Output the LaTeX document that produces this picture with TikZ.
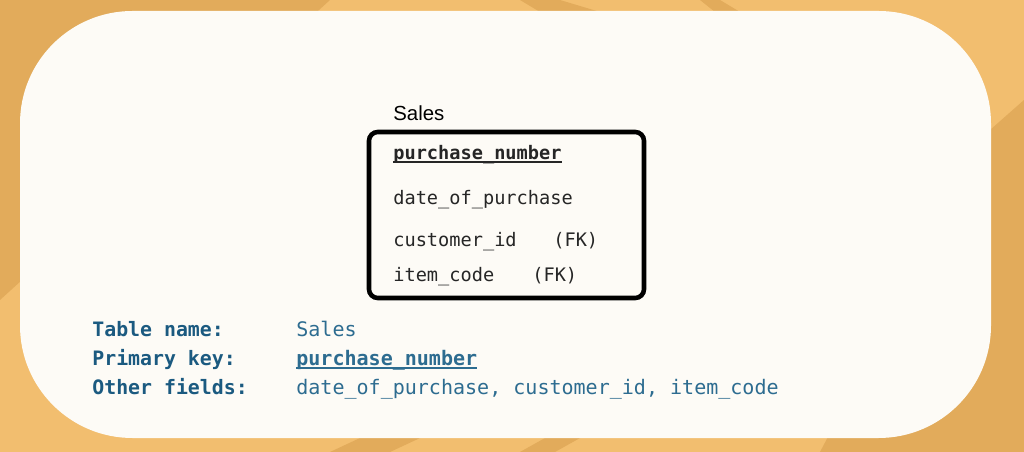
\documentclass[tikz,border=0pt]{standalone}
\usepackage{fontspec}
\setmainfont{Liberation Sans}
\setmonofont{DejaVu Sans Mono}
\definecolor{bgA}{HTML}{F2BE6F}
\definecolor{bgB}{HTML}{E2AB5B}
\definecolor{card}{HTML}{FDFBF6}
\definecolor{lab}{HTML}{1B5A80}
\definecolor{val}{HTML}{2D6C90}
\newcommand\myul[1]{\setbox0\hbox{#1}\rlap{\rule[-1.7pt]{\wd0}{1pt}}\box0}
\begin{document}
\begin{tikzpicture}[x=0.02cm,y=-0.02cm,
  field/.style={anchor=base west,inner sep=0pt,font=\fontsize{10.6}{12}\ttfamily,text=black!85},
  infolab/.style={anchor=base west,inner sep=0pt,font=\fontsize{11.3}{13}\ttfamily\bfseries,text=lab},
  infoval/.style={anchor=base west,inner sep=0pt,font=\fontsize{11.4}{13}\ttfamily,text=val}]
\useasboundingbox (0,0) rectangle (1024,452);
% background
\fill[bgA] (0,0) rectangle (1024,452);
\fill[bgB] (0,0) -- (330,0) -- (0,300) -- cycle;
\fill[bgB] (1024,100) -- (1024,452) -- (820,452) -- (990,130) -- cycle;
\fill[bgB] (520,0) -- (560,0) -- (600,12) -- (540,12) -- cycle;
\fill[bgB] (700,0) -- (720,0) -- (740,12) -- (715,12) -- cycle;
\fill[bgB] (330,452) -- (360,438) -- (420,438) -- (390,452) -- cycle;
\fill[bgB] (520,452) -- (545,438) -- (580,438) -- (555,452) -- cycle;
% card
\fill[card,rounded corners=64] (20,11) rectangle (991,438);
% table
\node[anchor=base west,inner sep=0pt,font=\fontsize{11.6}{13}\selectfont] (title) at (393,121) {Sales};
\draw[line width=2.6pt,rounded corners=5] (369,132) rectangle (644,298);
\node[field] (pk) at (393,160) {\myul{\textbf{purchase\_number}}};
\node[field] (f1) at (393,205) {date\_of\_purchase};
\node[field] (f2) at (393,247) {customer\_id};
\node[field] (f2k) at (553,247) {(FK)};
\node[field] (f3) at (393,282) {item\_code};
\node[field] (f3k) at (532,282) {(FK)};
% info
\node[infolab] (l1) at (92,337) {Table name:};
\node[infolab] (l2) at (92,366) {Primary key:};
\node[infolab] (l3) at (92,395) {Other fields:};
\node[infoval] (v1) at (296,337) {Sales};
\node[infoval] (v2) at (296,366) {\myul{\textbf{purchase\_number}}};
\node[infoval] (v3) at (296,395) {date\_of\_purchase, customer\_id, item\_code};
\end{tikzpicture}
\end{document}
